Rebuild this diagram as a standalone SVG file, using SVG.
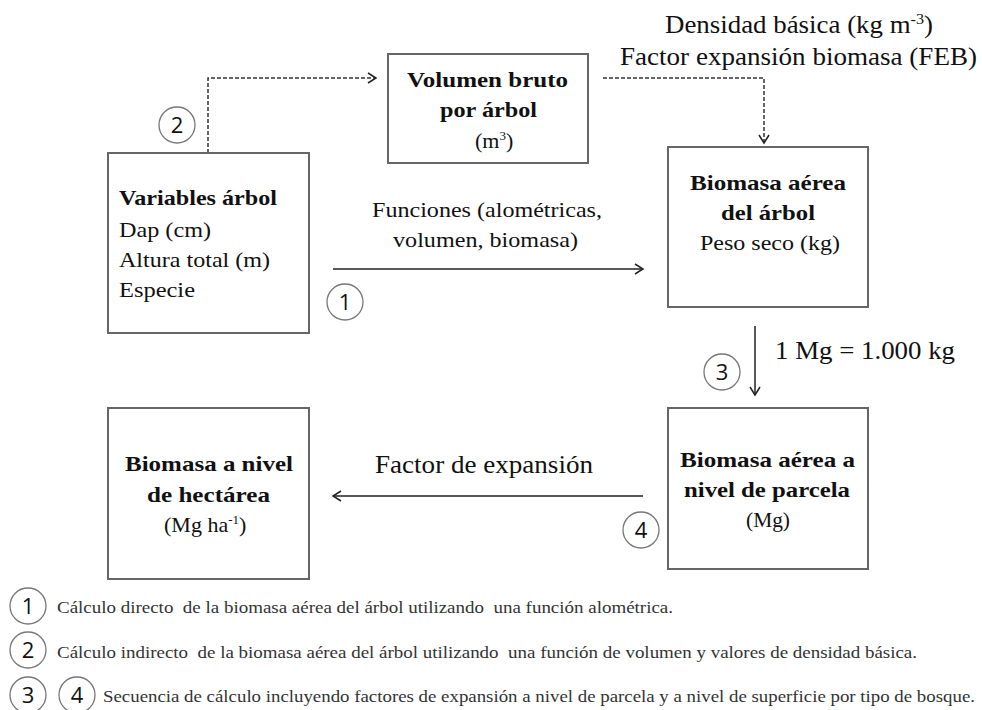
<svg xmlns="http://www.w3.org/2000/svg" width="982" height="710" viewBox="0 0 982 710">
<style>
.box{fill:#fff;stroke:#666;stroke-width:2}
.ln{stroke:#222;stroke-width:1.5;fill:none}
.dash{stroke:#333;stroke-width:1.5;fill:none;stroke-dasharray:4 2}
.circ{fill:#fff;stroke:#777;stroke-width:1.3}
.num{font-family:"Open Sans","Liberation Sans",sans-serif;font-size:22px;fill:#111;text-anchor:middle}
</style>
<defs>
<marker id="ah" markerWidth="12" markerHeight="12" refX="10" refY="6" orient="auto" markerUnits="userSpaceOnUse">
<path d="M2,1 L10,6 L2,11" fill="none" stroke="#222" stroke-width="1.5"/>
</marker>
</defs>
<rect width="982" height="710" fill="#fff"/>

<g id="connectors">
<path class="dash" d="M208,153 V78 H376" marker-end="url(#ah)"/>
<path class="dash" d="M603,78 H764 V143" marker-end="url(#ah)"/>
<path class="ln" d="M333,269 H643" marker-end="url(#ah)"/>
<path class="ln" d="M755,326 V395" marker-end="url(#ah)"/>
<path class="ln" d="M643,496 H333" marker-end="url(#ah)"/>
</g>

<g font-family="'Liberation Serif','Times New Roman',serif" fill="#111">
<g id="variables">
<rect class="box" x="108" y="153" width="201" height="180"/>
<text x="119" y="205" font-size="22" font-weight="bold" textLength="158" lengthAdjust="spacingAndGlyphs" style="font-family:'Liberation Serif',serif">Variables árbol</text>
<text x="119" y="237" font-size="22" textLength="92" lengthAdjust="spacingAndGlyphs" style="font-family:'Liberation Serif',serif">Dap (cm)</text>
<text x="119" y="267" font-size="22" textLength="151" lengthAdjust="spacingAndGlyphs" style="font-family:'Liberation Serif',serif">Altura total (m)</text>
<text x="119" y="297" font-size="22" textLength="76" lengthAdjust="spacingAndGlyphs" style="font-family:'Liberation Serif',serif">Especie</text>
</g>

<g id="volumen">
<rect class="box" x="388" y="54" width="200" height="109"/>
<text x="407" y="87" font-size="22" font-weight="bold" textLength="161" lengthAdjust="spacingAndGlyphs" style="font-family:'Liberation Serif',serif">Volumen bruto</text>
<text x="440" y="117" font-size="22" font-weight="bold" textLength="97" lengthAdjust="spacingAndGlyphs" style="font-family:'Liberation Serif',serif">por árbol</text>
<text x="475" y="148" font-size="22" style="font-family:'Liberation Serif',serif">(m<tspan font-size="13" dy="-8">3</tspan><tspan dy="8">)</tspan></text>
</g>

<g id="biomasa-arbol">
<rect class="box" x="668" y="147" width="200" height="160"/>
<text x="690" y="190" font-size="22" font-weight="bold" textLength="156" lengthAdjust="spacingAndGlyphs" style="font-family:'Liberation Serif',serif">Biomasa aérea</text>
<text x="721" y="220" font-size="22" font-weight="bold" textLength="94" lengthAdjust="spacingAndGlyphs" style="font-family:'Liberation Serif',serif">del árbol</text>
<text x="700" y="250" font-size="22" textLength="140" lengthAdjust="spacingAndGlyphs" style="font-family:'Liberation Serif',serif">Peso seco (kg)</text>
</g>

<g id="biomasa-parcela">
<rect class="box" x="668" y="408" width="200" height="161"/>
<text x="680" y="467" font-size="22" font-weight="bold" textLength="175" lengthAdjust="spacingAndGlyphs" style="font-family:'Liberation Serif',serif">Biomasa aérea a</text>
<text x="684" y="497" font-size="22" font-weight="bold" textLength="166" lengthAdjust="spacingAndGlyphs" style="font-family:'Liberation Serif',serif">nivel de parcela</text>
<text x="746" y="527" font-size="22" textLength="44" lengthAdjust="spacingAndGlyphs" style="font-family:'Liberation Serif',serif">(Mg)</text>
</g>

<g id="biomasa-hectarea">
<rect class="box" x="108" y="408" width="201" height="171"/>
<text x="125" y="471" font-size="22" font-weight="bold" textLength="168" lengthAdjust="spacingAndGlyphs" style="font-family:'Liberation Serif',serif">Biomasa a nivel</text>
<text x="147" y="502" font-size="22" font-weight="bold" textLength="123" lengthAdjust="spacingAndGlyphs" style="font-family:'Liberation Serif',serif">de hectárea</text>
<text x="164" y="532" font-size="22" style="font-family:'Liberation Serif',serif">(Mg ha<tspan font-size="13" dy="-8">-1</tspan><tspan dy="8">)</tspan></text>
</g>

<g id="labels">
<text x="665" y="33" font-size="25" textLength="268" lengthAdjust="spacingAndGlyphs" style="font-family:'Liberation Serif',serif">Densidad básica (kg m<tspan font-size="15" dy="-9">-3</tspan><tspan dy="9">)</tspan></text>
<text x="620" y="65" font-size="25" textLength="357" lengthAdjust="spacingAndGlyphs" style="font-family:'Liberation Serif',serif">Factor expansión biomasa (FEB)</text>
<text x="372" y="217" font-size="22" textLength="230" lengthAdjust="spacingAndGlyphs" style="font-family:'Liberation Serif',serif">Funciones (alométricas,</text>
<text x="393" y="247" font-size="22" textLength="185" lengthAdjust="spacingAndGlyphs" style="font-family:'Liberation Serif',serif">volumen, biomasa)</text>
<text x="775" y="359" font-size="25" textLength="180" lengthAdjust="spacingAndGlyphs" style="font-family:'Liberation Serif',serif">1 Mg = 1.000 kg</text>
<text x="375" y="473" font-size="25" textLength="218" lengthAdjust="spacingAndGlyphs" style="font-family:'Liberation Serif',serif">Factor de expansión</text>
</g>
</g>

<g id="markers">
<circle class="circ" cx="177" cy="125" r="18"/><text class="num" x="177" y="133">2</text>
<circle class="circ" cx="345" cy="302" r="18"/><text class="num" x="345" y="310">1</text>
<circle class="circ" cx="722" cy="372" r="18"/><text class="num" x="722" y="380">3</text>
<circle class="circ" cx="641" cy="530" r="18"/><text class="num" x="641" y="538">4</text>
</g>

<g id="legend" fill="#333">
<circle class="circ" cx="28" cy="606" r="18"/><text class="num" x="28" y="614">1</text>
<text x="57" y="613" font-size="17" textLength="616" lengthAdjust="spacingAndGlyphs" style="font-family:'Liberation Serif',serif" xml:space="preserve">Cálculo directo  de la biomasa aérea del árbol utilizando  una función alométrica.</text>
<circle class="circ" cx="28" cy="650" r="18"/><text class="num" x="28" y="658">2</text>
<text x="57" y="658" font-size="17" textLength="860" lengthAdjust="spacingAndGlyphs" style="font-family:'Liberation Serif',serif" xml:space="preserve">Cálculo indirecto  de la biomasa aérea del árbol utilizando  una función de volumen y valores de densidad básica.</text>
<circle class="circ" cx="28" cy="695" r="18"/><text class="num" x="28" y="703">3</text>
<circle class="circ" cx="77" cy="695" r="18"/><text class="num" x="77" y="703">4</text>
<text x="103" y="702" font-size="17" textLength="872" lengthAdjust="spacingAndGlyphs" style="font-family:'Liberation Serif',serif">Secuencia de cálculo incluyendo factores de expansión a nivel de parcela y a nivel de superficie por tipo de bosque.</text>
</g>
</svg>
